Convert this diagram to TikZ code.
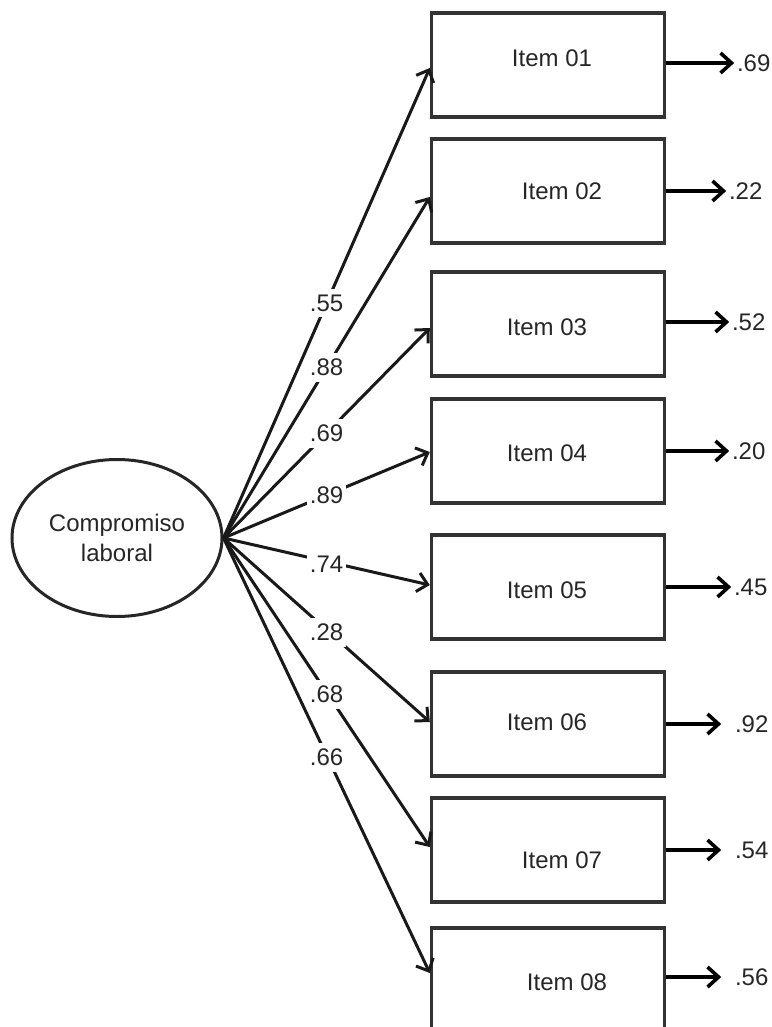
\documentclass[tikz,border=0pt]{standalone}
\usepackage{fontspec}
\setmainfont{Liberation Sans}
\usetikzlibrary{arrows.meta,shapes.geometric}
\begin{document}
\begin{tikzpicture}[x=1pt,y=-1pt,
  every node/.style={font=\fontsize{24}{30}\selectfont},
  itembox/.style={draw=black!80, line width=3.4pt, minimum width=233pt, minimum height=104pt, inner sep=0pt},
  itemtxt/.style={inner sep=0pt, text=black!85},
  latent/.style={ellipse, draw=black!85, line width=3pt, minimum width=210pt, minimum height=157pt, inner sep=0pt, align=center, text=black!85},
  load/.style={line width=3pt, black!90, -{Straight Barb[length=10pt,width=19pt]}},
  coef/.style={fill=white, inner xsep=3pt, inner ysep=6pt, pos=0.5, text=black!85},
  res/.style={line width=3.6pt, -{Straight Barb[length=11pt,width=20pt]}},
  resval/.style={anchor=west, inner sep=1pt, text=black!85}
]
\useasboundingbox (0,0) rectangle (771,1027);
\clip (0,0) rectangle (771,1027);

\node[latent] (f) at (117,538) {Compromiso\\laboral};

\node[itembox] (i1) at (548,65) {};
\node[itembox] (i2) at (548,191) {};
\node[itembox] (i3) at (548,324) {};
\node[itembox] (i4) at (548,451) {};
\node[itembox] (i5) at (548,587) {};
\node[itembox] (i6) at (548,724) {};
\node[itembox] (i7) at (548,850) {};
\node[itembox] (i8) at (548,980) {};

\node[itemtxt] (t1) at (552,58) {Item 01};
\node[itemtxt] (t2) at (562,191) {Item 02};
\node[itemtxt] (t3) at (547,327) {Item 03};
\node[itemtxt] (t4) at (547,453) {Item 04};
\node[itemtxt] (t5) at (547,590) {Item 05};
\node[itemtxt] (t6) at (547,722) {Item 06};
\node[itemtxt] (t7) at (562,860) {Item 07};
\node[itemtxt] (t8) at (567,982) {Item 08};

\draw[load] (f.east) -- node[coef] {.55} ([yshift=-3pt]i1.west);
\draw[load] (f.east) -- node[coef] {.88} ([yshift=-6pt]i2.west);
\draw[load] (f.east) -- node[coef] {.69} ([yshift=-4pt]i3.west);
\draw[load] (f.east) -- node[coef] {.89} ([yshift=-1pt]i4.west);
\draw[load] (f.east) -- node[coef, yshift=-3pt] {.74} ([yshift=2pt]i5.west);
\draw[load] (f.east) -- node[coef, yshift=-2pt] {.28} ([yshift=2pt]i6.west);
\draw[load] (f.east) -- node[coef, yshift=-2pt] {.68} ([yshift=3pt]i7.west);
\draw[load] (f.east) -- node[coef, yshift=-2pt] {.66} ([yshift=7pt]i8.west);

\draw[res] ([yshift=2pt]i1.east) -- ++(68,0) node[resval] {.69};
\draw[res] (i2.east) -- ++(60,0) node[resval] {.22};
\draw[res] ([yshift=2pt]i3.east) -- ++(63,0) node[resval] {.52};
\draw[res] (i4.east) -- ++(63,0) node[resval] {.20};
\draw[res] (i5.east) -- ++(65,0) node[resval] {.45};
\draw[res] (i6.east) -- ++(55,0) node[resval, xshift=11pt] {.92};
\draw[res] (i7.east) -- ++(55,0) node[resval, xshift=11pt] {.54};
\draw[res] ([yshift=3pt]i8.east) -- ++(55,0) node[resval, xshift=11pt] {.56};
\end{tikzpicture}
\end{document}
